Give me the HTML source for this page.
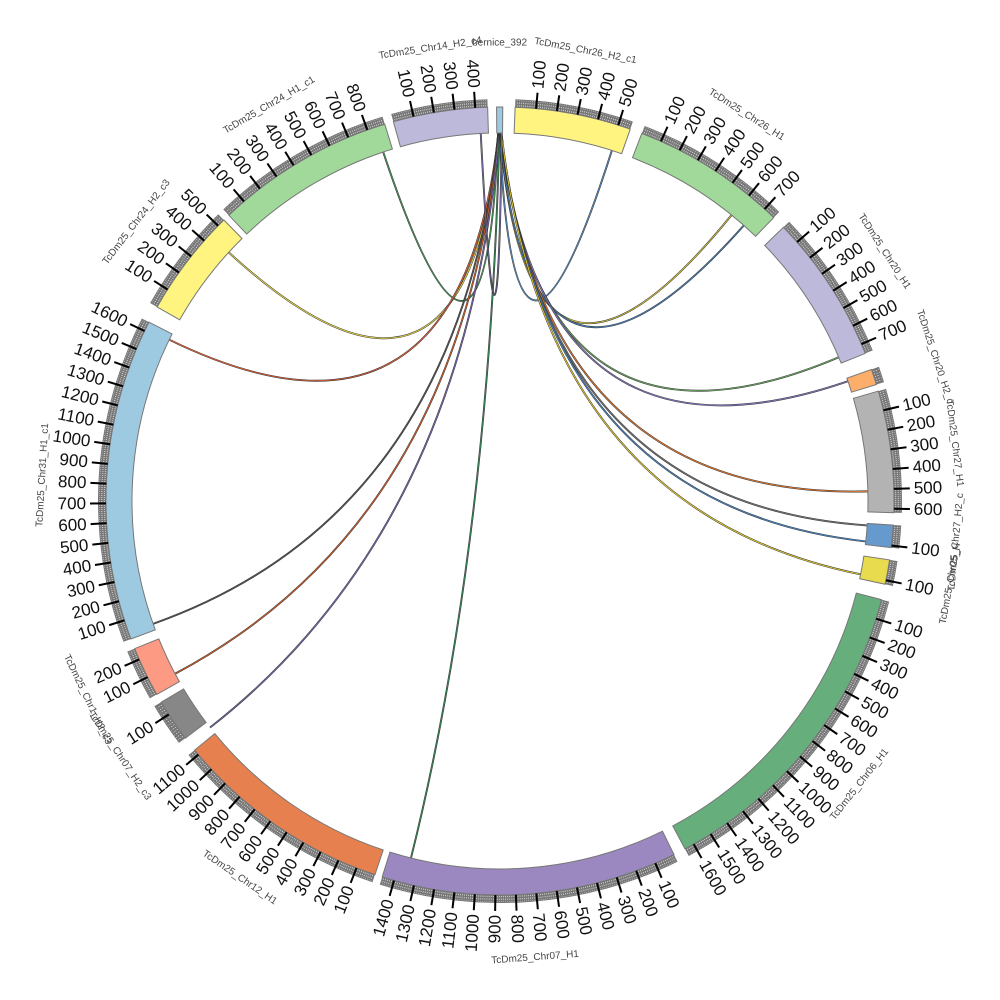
<!DOCTYPE html>
<html><head><meta charset="utf-8"><style>html,body{margin:0;padding:0;background:#fff;}svg{display:block}</style></head>
<body>
<svg id="s" width="1000" height="1000" viewBox="0 0 1000 1000" xmlns="http://www.w3.org/2000/svg" font-family="Liberation Sans, sans-serif"></svg>
<script>
var CX=500,CY=501,RI=368,RO=394,RT=402,RM=410,RL=414,RN=458;
var segs=[
["bernice_392",-0.5,0.4,"#9ecae1",0],
["TcDm25_Chr26_H2_c1",2.2,19.3,"#fff47f",560],
["TcDm25_Chr26_H1",21.1,44,"#a1d99b",760],
["TcDm25_Chr20_H1",46,68,"#bcb9da",750],
["TcDm25_Chr20_H2_c",70.5,72.8,"#fdae6b",60],
["TcDm25_Chr27_H1",73.8,91.7,"#b3b3b3",620],
["TcDm25_Chr27_H2_c",93.5,96.8,"#6699cc",110],
["TcDm25_Chr05_H",98.6,102.2,"#e8dc4e",120],
["TcDm25_Chr06_H1",104.5,152,"#67ae7d",1650],
["TcDm25_Chr07_H1",153.8,197.4,"#9b88c0",1460],
["TcDm25_Chr12_H1",198.5,230.8,"#e6814f",1130],
["TcDm25_Chr07_H2_c3",233,239.3,"#878787",150],
["TcDm25_Chr1_H2_c3",240.6,248,"#fc9a84",260],
["TcDm25_Chr31_H1_c1",249.5,297,"#9ecae1",1650],
["TcDm25_Chr24_H2_c3",299.5,315.5,"#fff47f",540],
["TcDm25_Chr24_H1_c1",316.5,343,"#a1d99b",890],
["TcDm25_Chr14_H2_c4",344.3,358.2,"#bcb9da",460]];
function P(a,r){var t=a*Math.PI/180;return [CX+r*Math.sin(t),CY-r*Math.cos(t)];}
var o="";
function arc(a0,a1,r0,r1,fill,stroke){var p=P(a0,r1),q=P(a1,r1),u=P(a1,r0),v=P(a0,r0);var l=(a1-a0)>180?1:0;
return '<path d="M'+p[0]+','+p[1]+' A'+r1+','+r1+' 0 '+l+' 1 '+q[0]+','+q[1]+' L'+u[0]+','+u[1]+' A'+r0+','+r0+' 0 '+l+' 0 '+v[0]+','+v[1]+'Z" fill="'+fill+'" stroke="'+stroke+'" stroke-width="1"/>';}
var L=[[341.5,"#4a9a5a"],[312.5,"#e8d84a"],[296,"#e0603a"],[250.5,"#555"],[242,"#d8602a"],[232,"#7a68b0"],[194,"#3a8a5a"],[17.7,"#5b8fc0"],[39,"#d8c840"],[41.5,"#4a80b8"],[67,"#6aaa60"],[71,"#8878c0"],[88.5,"#e07830"],[93.8,"#777"],[96.3,"#4a88c8"],[101.5,"#e8d030"],[357,"#8070b0"]];
L.forEach(function(l,i){var sa=-0.3+0.6*i/L.length;var s=P(sa,RI),e=P(l[0],RI);var c=[CX+(e[0]-CX)*0.12,CY+(e[1]-CY)*0.12];
var d='M'+s[0]+','+s[1]+' Q'+c[0]+','+c[1]+' '+e[0]+','+e[1];
o+='<path d="'+d+'" fill="none" stroke="#333" stroke-width="1.9"/>';
o+='<path d="'+d+'" fill="none" stroke="'+l[1]+'" stroke-width="0.9"/>';});
segs.forEach(function(s){
 var a0=s[1],a1=s[2];
 o+=arc(a0,a1,RI,RO,s[3],"#777");
 if(s[4]>0){
  o+=arc(a0,a1,RO,RT,"#777","none");
  var d=(a1-a0)/s[4];
  for(var u=10;u<s[4];u+=10){var a=a0+u*d;var p=P(a,RO+1),q=P(a,RT-1);o+='<line x1="'+p[0]+'" y1="'+p[1]+'" x2="'+q[0]+'" y2="'+q[1]+'" stroke="#fff" stroke-width="0.6" stroke-dasharray="1.2,1.5"/>';}
  for(var u=100;u<s[4];u+=100){var a=a0+u*d;var p=P(a,RO),q=P(a,RM);o+='<line x1="'+p[0]+'" y1="'+p[1]+'" x2="'+q[0]+'" y2="'+q[1]+'" stroke="#000" stroke-width="2"/>';
   var t=P(a,RL);var rot,anc;if(a<180){rot=a-90;anc="start";}else{rot=a+90;anc="end";}
   o+='<text x="'+t[0]+'" y="'+t[1]+'" font-size="17" fill="#111" text-anchor="'+anc+'" dominant-baseline="central" transform="rotate('+rot+' '+t[0]+' '+t[1]+')">'+u+'</text>';}
 }
 var m=(a0+a1)/2;var n=P(m,RN);var r=m;if(m>90&&m<270)r=m+180;
 o+='<text x="'+n[0]+'" y="'+n[1]+'" font-size="10" fill="#444" text-anchor="middle" dominant-baseline="central" transform="rotate('+r+' '+n[0]+' '+n[1]+')">'+s[0]+'</text>';
});
document.getElementById("s").innerHTML=o;
</script>
</body></html>
